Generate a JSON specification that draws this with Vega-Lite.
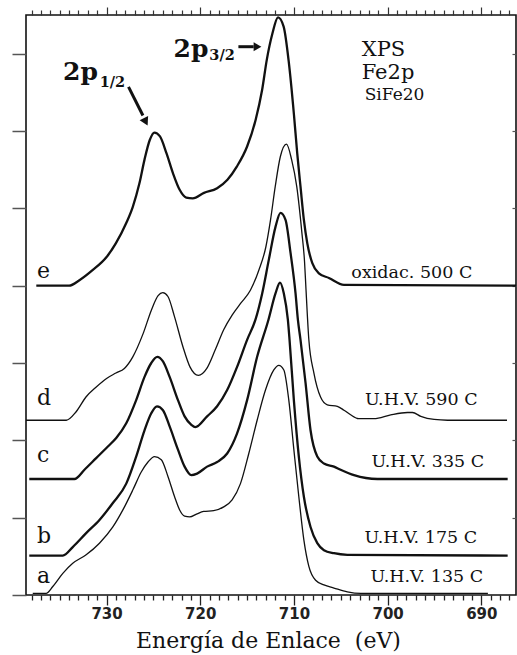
{
  "$schema": "https://vega.github.io/schema/vega-lite/v6.json",
  "width": 490,
  "height": 580,
  "autosize": {"type": "none"},
  "padding": {"left": 26, "top": 15, "right": 1, "bottom": 60},
  "background": "white",
  "config": {"view": {"stroke": "#111", "strokeWidth": 1.6}, "font": "DejaVu Serif"},
  "datasets": {
    "curves": [
      {"s":"e","ev":737.5,"v":4.0},{"s":"e","ev":734.0,"v":4.0},{"s":"e","ev":732.9,"v":4.07},{"s":"e","ev":731.5,"v":4.2},{"s":"e","ev":730.0,"v":4.37},{"s":"e","ev":729.0,"v":4.55},{"s":"e","ev":727.9,"v":4.81},{"s":"e","ev":727.2,"v":5.02},{"s":"e","ev":726.5,"v":5.32},{"s":"e","ev":725.95,"v":5.63},{"s":"e","ev":725.4,"v":5.88},{"s":"e","ev":724.9,"v":5.98},{"s":"e","ev":724.3,"v":5.93},{"s":"e","ev":723.6,"v":5.71},{"s":"e","ev":722.9,"v":5.45},{"s":"e","ev":722.2,"v":5.24},{"s":"e","ev":721.5,"v":5.14},{"s":"e","ev":720.8,"v":5.13},{"s":"e","ev":719.6,"v":5.2},{"s":"e","ev":718.2,"v":5.26},{"s":"e","ev":717.1,"v":5.37},{"s":"e","ev":716.1,"v":5.54},{"s":"e","ev":715.0,"v":5.8},{"s":"e","ev":714.1,"v":6.14},{"s":"e","ev":713.4,"v":6.53},{"s":"e","ev":712.9,"v":6.92},{"s":"e","ev":712.3,"v":7.26},{"s":"e","ev":711.7,"v":7.47},{"s":"e","ev":711.1,"v":7.35},{"s":"e","ev":710.55,"v":6.89},{"s":"e","ev":710.0,"v":6.21},{"s":"e","ev":709.65,"v":5.71},{"s":"e","ev":709.3,"v":5.28},{"s":"e","ev":708.94,"v":4.85},{"s":"e","ev":708.58,"v":4.55},{"s":"e","ev":708.04,"v":4.29},{"s":"e","ev":707.34,"v":4.16},{"s":"e","ev":706.27,"v":4.1},{"s":"e","ev":704.66,"v":4.01},{"s":"e","ev":686.3,"v":4.0},
      {"s":"d","ev":738.6,"v":2.26},{"s":"d","ev":734.3,"v":2.26},{"s":"d","ev":733.25,"v":2.37},{"s":"d","ev":732.2,"v":2.56},{"s":"d","ev":731.1,"v":2.69},{"s":"d","ev":730.0,"v":2.8},{"s":"d","ev":729.0,"v":2.87},{"s":"d","ev":728.1,"v":2.93},{"s":"d","ev":727.2,"v":3.08},{"s":"d","ev":726.1,"v":3.38},{"s":"d","ev":725.2,"v":3.69},{"s":"d","ev":724.5,"v":3.87},{"s":"d","ev":724.0,"v":3.91},{"s":"d","ev":723.45,"v":3.86},{"s":"d","ev":722.75,"v":3.6},{"s":"d","ev":721.85,"v":3.21},{"s":"d","ev":721.1,"v":2.95},{"s":"d","ev":720.2,"v":2.84},{"s":"d","ev":719.3,"v":2.93},{"s":"d","ev":718.4,"v":3.17},{"s":"d","ev":717.5,"v":3.43},{"s":"d","ev":716.6,"v":3.62},{"s":"d","ev":715.7,"v":3.77},{"s":"d","ev":714.65,"v":3.94},{"s":"d","ev":713.75,"v":4.2},{"s":"d","ev":713.0,"v":4.5},{"s":"d","ev":712.5,"v":4.85},{"s":"d","ev":712.0,"v":5.28},{"s":"d","ev":711.45,"v":5.67},{"s":"d","ev":710.8,"v":5.83},{"s":"d","ev":710.25,"v":5.63},{"s":"d","ev":709.7,"v":5.28},{"s":"d","ev":709.15,"v":4.68},{"s":"d","ev":708.87,"v":4.31},{"s":"d","ev":708.71,"v":3.94},{"s":"d","ev":708.41,"v":3.3},{"s":"d","ev":707.87,"v":2.87},{"s":"d","ev":707.16,"v":2.56},{"s":"d","ev":706.44,"v":2.46},{"s":"d","ev":705.37,"v":2.44},{"s":"d","ev":704.66,"v":2.39},{"s":"d","ev":703.95,"v":2.33},{"s":"d","ev":703.1,"v":2.28},{"s":"d","ev":701.46,"v":2.28},{"s":"d","ev":699.67,"v":2.33},{"s":"d","ev":697.88,"v":2.36},{"s":"d","ev":697.35,"v":2.36},{"s":"d","ev":696.46,"v":2.31},{"s":"d","ev":695.04,"v":2.27},{"s":"d","ev":693.6,"v":2.26},{"s":"d","ev":687.26,"v":2.26},
      {"s":"c","ev":738.25,"v":1.5},{"s":"c","ev":733.43,"v":1.5},{"s":"c","ev":732.36,"v":1.62},{"s":"c","ev":731.11,"v":1.77},{"s":"c","ev":729.86,"v":1.92},{"s":"c","ev":728.97,"v":2.03},{"s":"c","ev":727.9,"v":2.22},{"s":"c","ev":726.84,"v":2.52},{"s":"c","ev":725.95,"v":2.82},{"s":"c","ev":725.23,"v":3.0},{"s":"c","ev":724.59,"v":3.08},{"s":"c","ev":723.98,"v":3.02},{"s":"c","ev":723.27,"v":2.82},{"s":"c","ev":722.38,"v":2.52},{"s":"c","ev":721.67,"v":2.31},{"s":"c","ev":720.95,"v":2.2},{"s":"c","ev":720.53,"v":2.17},{"s":"c","ev":719.27,"v":2.31},{"s":"c","ev":718.2,"v":2.44},{"s":"c","ev":717.13,"v":2.65},{"s":"c","ev":716.07,"v":2.95},{"s":"c","ev":715.0,"v":3.3},{"s":"c","ev":714.11,"v":3.56},{"s":"c","ev":713.39,"v":3.9},{"s":"c","ev":712.69,"v":4.33},{"s":"c","ev":711.97,"v":4.76},{"s":"c","ev":711.43,"v":4.94},{"s":"c","ev":710.9,"v":4.85},{"s":"c","ev":710.36,"v":4.42},{"s":"c","ev":709.83,"v":3.9},{"s":"c","ev":709.58,"v":3.56},{"s":"c","ev":709.3,"v":3.3},{"s":"c","ev":708.76,"v":2.74},{"s":"c","ev":708.23,"v":2.13},{"s":"c","ev":707.51,"v":1.79},{"s":"c","ev":706.8,"v":1.7},{"s":"c","ev":705.73,"v":1.66},{"s":"c","ev":705.02,"v":1.62},{"s":"c","ev":703.59,"v":1.55},{"s":"c","ev":701.09,"v":1.5},{"s":"c","ev":687.19,"v":1.5},
      {"s":"b","ev":738.25,"v":0.51},{"s":"b","ev":734.67,"v":0.51},{"s":"b","ev":733.61,"v":0.62},{"s":"b","ev":732.18,"v":0.8},{"s":"b","ev":730.76,"v":0.97},{"s":"b","ev":729.33,"v":1.19},{"s":"b","ev":727.9,"v":1.44},{"s":"b","ev":726.84,"v":1.79},{"s":"b","ev":725.95,"v":2.13},{"s":"b","ev":725.23,"v":2.35},{"s":"b","ev":724.62,"v":2.44},{"s":"b","ev":723.98,"v":2.39},{"s":"b","ev":723.27,"v":2.18},{"s":"b","ev":722.38,"v":1.88},{"s":"b","ev":721.67,"v":1.66},{"s":"b","ev":720.95,"v":1.55},{"s":"b","ev":720.34,"v":1.57},{"s":"b","ev":719.27,"v":1.66},{"s":"b","ev":718.2,"v":1.72},{"s":"b","ev":717.13,"v":1.83},{"s":"b","ev":716.07,"v":2.09},{"s":"b","ev":715.0,"v":2.52},{"s":"b","ev":713.93,"v":3.08},{"s":"b","ev":712.72,"v":3.56},{"s":"b","ev":711.97,"v":3.9},{"s":"b","ev":711.49,"v":4.04},{"s":"b","ev":711.08,"v":3.9},{"s":"b","ev":710.65,"v":3.56},{"s":"b","ev":710.47,"v":3.3},{"s":"b","ev":710.01,"v":2.52},{"s":"b","ev":709.48,"v":1.79},{"s":"b","ev":708.94,"v":1.27},{"s":"b","ev":708.23,"v":0.88},{"s":"b","ev":707.51,"v":0.67},{"s":"b","ev":706.8,"v":0.58},{"s":"b","ev":705.73,"v":0.54},{"s":"b","ev":704.3,"v":0.52},{"s":"b","ev":687.19,"v":0.51},
      {"s":"a","ev":737.88,"v":0.02},{"s":"a","ev":736.46,"v":0.02},{"s":"a","ev":735.74,"v":0.11},{"s":"a","ev":734.67,"v":0.28},{"s":"a","ev":733.61,"v":0.41},{"s":"a","ev":732.18,"v":0.52},{"s":"a","ev":730.76,"v":0.67},{"s":"a","ev":729.33,"v":0.88},{"s":"a","ev":728.26,"v":1.1},{"s":"a","ev":727.19,"v":1.36},{"s":"a","ev":726.3,"v":1.59},{"s":"a","ev":725.58,"v":1.72},{"s":"a","ev":724.88,"v":1.79},{"s":"a","ev":724.16,"v":1.75},{"s":"a","ev":723.44,"v":1.53},{"s":"a","ev":722.74,"v":1.27},{"s":"a","ev":722.2,"v":1.1},{"s":"a","ev":721.67,"v":1.02},{"s":"a","ev":721.13,"v":1.01},{"s":"a","ev":720.34,"v":1.05},{"s":"a","ev":719.64,"v":1.08},{"s":"a","ev":718.57,"v":1.09},{"s":"a","ev":717.5,"v":1.14},{"s":"a","ev":716.6,"v":1.23},{"s":"a","ev":715.71,"v":1.44},{"s":"a","ev":714.82,"v":1.83},{"s":"a","ev":713.93,"v":2.26},{"s":"a","ev":713.04,"v":2.65},{"s":"a","ev":712.15,"v":2.91},{"s":"a","ev":711.62,"v":2.97},{"s":"a","ev":711.08,"v":2.91},{"s":"a","ev":710.55,"v":2.52},{"s":"a","ev":710.01,"v":1.88},{"s":"a","ev":709.48,"v":1.27},{"s":"a","ev":708.94,"v":0.71},{"s":"a","ev":708.41,"v":0.37},{"s":"a","ev":707.69,"v":0.19},{"s":"a","ev":706.8,"v":0.13},{"s":"a","ev":705.73,"v":0.09},{"s":"a","ev":704.3,"v":0.04},{"s":"a","ev":702.88,"v":0.02},{"s":"a","ev":689.3,"v":0.02}
    ]
  },
  "resolve": {"axis": {"x": "independent", "y": "independent"}},
  "layer": [
    {
      "data": {"name": "curves"},
      "transform": [{"filter": {"field": "s", "oneOf": ["e", "c", "b"]}}],
      "mark": {"type": "line", "interpolate": "monotone", "color": "#111", "strokeWidth": 2.3},
      "encoding": {
        "x": {"field": "ev", "type": "quantitative", "scale": {"domain": [686.3, 738.6], "reverse": true, "nice": false, "zero": false},
          "axis": {"orient": "bottom", "values": [687,688,689,690,691,692,693,694,695,696,697,698,699,700,701,702,703,704,705,706,707,708,709,710,711,712,713,714,715,716,717,718,719,720,721,722,723,724,725,726,727,728,729,730,731,732,733,734,735,736,737,738],
            "domain": false, "grid": false,
            "tickSize": {"condition": {"test": "datum.value % 10 === 0", "value": 10}, "value": 5},
            "tickColor": "#222", "tickWidth": 1.3,
            "labelExpr": "datum.value % 10 === 0 ? datum.label : ''",
            "labelFont": "DejaVu Sans", "labelFontWeight": "bold", "labelFontSize": 15, "labelColor": "#222",
            "labelPadding": 1, "labelFlush": false, "labelOverlap": false,
            "title": "Energía de Enlace\u00a0 (eV)", "titleFont": "DejaVu Serif", "titleFontSize": 22, "titleFontWeight": "normal", "titleColor": "#111",
            "titleBaseline": "alphabetic", "titleY": 52, "titleX": 242}},
        "y": {"field": "v", "type": "quantitative", "scale": {"domain": [0, 7.5], "nice": false, "zero": false},
          "axis": {"orient": "left", "values": [0,1,2,3,4,5,6,7], "labels": false, "domain": false, "grid": false, "title": null, "tickSize": 14, "tickColor": "#555", "tickWidth": 1.5}},
        "detail": {"field": "s"}
      }
    },
    {
      "data": {"name": "curves"},
      "transform": [{"filter": {"field": "s", "oneOf": ["d", "a"]}}],
      "mark": {"type": "line", "interpolate": "monotone", "color": "#111", "strokeWidth": 1.3},
      "encoding": {
        "x": {"field": "ev", "type": "quantitative", "scale": {"domain": [686.3, 738.6], "reverse": true, "nice": false, "zero": false},
          "axis": {"orient": "top", "values": [687,688,689,690,691,692,693,694,695,696,697,698,699,700,701,702,703,704,705,706,707,708,709,710,711,712,713,714,715,716,717,718,719,720,721,722,723,724,725,726,727,728,729,730,731,732,733,734,735,736,737,738],
            "domain": false, "grid": false, "labels": false, "title": null,
            "tickSize": {"condition": {"test": "datum.value % 10 === 0", "value": 8}, "value": 5},
            "tickColor": "#333", "tickWidth": 1.2}},
        "y": {"field": "v", "type": "quantitative", "scale": {"domain": [0, 7.5], "nice": false, "zero": false},
          "axis": {"orient": "right", "values": [1,2,3,4,5,6,7], "labels": false, "domain": false, "grid": false, "title": null, "tickSize": -4, "tickColor": "#555", "tickWidth": 1.2}},
        "detail": {"field": "s"}
      }
    },
    {
      "data": {"values": [
        {"t": "e", "ev": 737.42, "v": 4.1},
        {"t": "d", "ev": 737.42, "v": 2.46},
        {"t": "c", "ev": 737.42, "v": 1.72},
        {"t": "b", "ev": 737.42, "v": 0.67},
        {"t": "a", "ev": 737.42, "v": 0.155}
      ]},
      "mark": {"type": "text", "font": "DejaVu Serif", "fontSize": 22, "align": "left", "baseline": "alphabetic", "color": "#111"},
      "encoding": {
        "x": {"field": "ev", "type": "quantitative", "scale": {"domain": [686.3, 738.6], "reverse": true, "nice": false, "zero": false}, "axis": null},
        "y": {"field": "v", "type": "quantitative", "scale": {"domain": [0, 7.5], "nice": false, "zero": false}, "axis": null},
        "text": {"field": "t"}
      }
    },
    {
      "data": {"values": [
        {"t": "oxidac. 500 C", "ev": 697.42, "v": 4.1},
        {"t": "U.H.V. 590 C", "ev": 696.41, "v": 2.46},
        {"t": "U.H.V. 335 C", "ev": 695.71, "v": 1.655},
        {"t": "U.H.V. 175 C", "ev": 696.46, "v": 0.67},
        {"t": "U.H.V. 135 C", "ev": 695.82, "v": 0.17}
      ]},
      "mark": {"type": "text", "font": "DejaVu Serif", "fontSize": 17.5, "align": "center", "baseline": "alphabetic", "color": "#111"},
      "encoding": {
        "x": {"field": "ev", "type": "quantitative", "scale": {"domain": [686.3, 738.6], "reverse": true, "nice": false, "zero": false}, "axis": null},
        "y": {"field": "v", "type": "quantitative", "scale": {"domain": [0, 7.5], "nice": false, "zero": false}, "axis": null},
        "text": {"field": "t"}
      }
    },
    {
      "data": {"values": [
        {"t": "XPS", "ev": 702.77, "v": 6.97},
        {"t": "Fe2p", "ev": 702.77, "v": 6.67}
      ]},
      "mark": {"type": "text", "font": "DejaVu Serif", "fontSize": 21, "align": "left", "baseline": "alphabetic", "color": "#111"},
      "encoding": {
        "x": {"field": "ev", "type": "quantitative", "scale": {"domain": [686.3, 738.6], "reverse": true, "nice": false, "zero": false}, "axis": null},
        "y": {"field": "v", "type": "quantitative", "scale": {"domain": [0, 7.5], "nice": false, "zero": false}, "axis": null},
        "text": {"field": "t"}
      }
    },
    {
      "data": {"values": [
        {"t": "SiFe20", "ev": 702.45, "v": 6.4}
      ]},
      "mark": {"type": "text", "font": "DejaVu Serif", "fontSize": 17, "align": "left", "baseline": "alphabetic", "color": "#111"},
      "encoding": {
        "x": {"field": "ev", "type": "quantitative", "scale": {"domain": [686.3, 738.6], "reverse": true, "nice": false, "zero": false}, "axis": null},
        "y": {"field": "v", "type": "quantitative", "scale": {"domain": [0, 7.5], "nice": false, "zero": false}, "axis": null},
        "text": {"field": "t"}
      }
    },
    {
      "data": {"values": [
        {"t": "2p", "ev": 734.64, "v": 6.66},
        {"t": "2p", "ev": 722.85, "v": 6.96}
      ]},
      "mark": {"type": "text", "font": "DejaVu Serif", "fontSize": 25, "fontWeight": "bold", "align": "left", "baseline": "alphabetic", "color": "#111"},
      "encoding": {
        "x": {"field": "ev", "type": "quantitative", "scale": {"domain": [686.3, 738.6], "reverse": true, "nice": false, "zero": false}, "axis": null},
        "y": {"field": "v", "type": "quantitative", "scale": {"domain": [0, 7.5], "nice": false, "zero": false}, "axis": null},
        "text": {"field": "t"}
      }
    },
    {
      "data": {"values": [
        {"t": "1/2", "ev": 730.74, "v": 6.57},
        {"t": "3/2", "ev": 719.03, "v": 6.92}
      ]},
      "mark": {"type": "text", "font": "DejaVu Serif", "fontSize": 14.5, "fontWeight": "bold", "align": "left", "baseline": "alphabetic", "color": "#111"},
      "encoding": {
        "x": {"field": "ev", "type": "quantitative", "scale": {"domain": [686.3, 738.6], "reverse": true, "nice": false, "zero": false}, "axis": null},
        "y": {"field": "v", "type": "quantitative", "scale": {"domain": [0, 7.5], "nice": false, "zero": false}, "axis": null},
        "text": {"field": "t"}
      }
    },
    {
      "data": {"values": [
        {"ev": 727.66, "v": 6.57, "ev2": 726.12, "v2": 6.2},
        {"ev": 715.93, "v": 7.09, "ev2": 714.3, "v2": 7.09}
      ]},
      "mark": {"type": "rule", "color": "#111", "strokeWidth": 3},
      "encoding": {
        "x": {"field": "ev", "type": "quantitative", "scale": {"domain": [686.3, 738.6], "reverse": true, "nice": false, "zero": false}, "axis": null},
        "y": {"field": "v", "type": "quantitative", "scale": {"domain": [0, 7.5], "nice": false, "zero": false}, "axis": null},
        "x2": {"field": "ev2"},
        "y2": {"field": "v2"}
      }
    },
    {
      "data": {"values": [{"ev": 725.82, "v": 6.12}]},
      "mark": {"type": "point", "shape": "triangle-up", "filled": true, "color": "#111", "size": 90, "angle": 153.4, "opacity": 1},
      "encoding": {
        "x": {"field": "ev", "type": "quantitative", "scale": {"domain": [686.3, 738.6], "reverse": true, "nice": false, "zero": false}, "axis": null},
        "y": {"field": "v", "type": "quantitative", "scale": {"domain": [0, 7.5], "nice": false, "zero": false}, "axis": null}
      }
    },
    {
      "data": {"values": [{"ev": 713.89, "v": 7.09}]},
      "mark": {"type": "point", "shape": "triangle-up", "filled": true, "color": "#111", "size": 80, "angle": 90, "opacity": 1},
      "encoding": {
        "x": {"field": "ev", "type": "quantitative", "scale": {"domain": [686.3, 738.6], "reverse": true, "nice": false, "zero": false}, "axis": null},
        "y": {"field": "v", "type": "quantitative", "scale": {"domain": [0, 7.5], "nice": false, "zero": false}, "axis": null}
      }
    }
  ]
}
